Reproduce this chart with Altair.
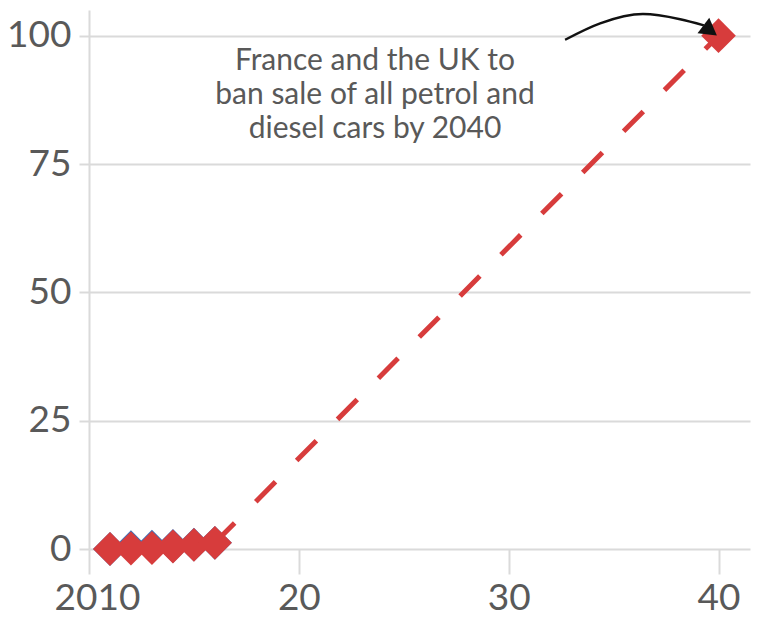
import altair as alt
import pandas as pd

# ---- data ----
years = [2011, 2012, 2013, 2014, 2015, 2016]
red_share = [0.0, 0.1, 0.2, 0.5, 0.8, 1.2]
blue_share = [0.0, 0.35, 0.45, 0.6, 0.85, 1.2]
path_year = [2016, 2040]
path_share = [1.2, 100]
ban_year = [2040]
ban_share = [100]
arrow_year = [2032.69, 2034.36, 2036.4, 2038.17, 2039.3]
arrow_share = [99.2, 102.4, 104.2, 103.2, 102.0]
head_year = [2039.6]
head_share = [101.0]
note_lines = ["France and the UK to", "ban sale of all petrol and", "diesel cars by 2040"]
note_year = [2023.63]
note_share = [95.0]
x_ticks = [2010, 2020, 2030, 2040]
y_ticks = [0, 25, 50, 75, 100]

RED = "#d73c3c"
BLUE = "#3d6fb6"
GRID = "#dadada"
TXT = "#595959"
FONT = "Lato"

hist = pd.DataFrame({"x": years, "y": red_share})
blue = pd.DataFrame({"x": years, "y": blue_share})
path = pd.DataFrame({"x": path_year, "y": path_share})
ban = pd.DataFrame({"x": ban_year, "y": ban_share})
arrow = pd.DataFrame({"x": arrow_year, "y": arrow_share, "o": list(range(len(arrow_year)))})
head = pd.DataFrame({"x": head_year, "y": head_share})
note = pd.DataFrame({"x": note_year, "y": note_share, "t": [note_lines]})

X = alt.X(
    "x:Q",
    scale=alt.Scale(domain=[2010, 2041.5], nice=False, zero=False),
    axis=alt.Axis(
        values=x_ticks, title=None, grid=False, domain=False,
        tickSize=25, tickWidth=2, tickColor=GRID,
        labelExpr="datum.value == 2010 ? '2010' : '' + (datum.value - 2000)",
        labelFont=FONT, labelFontSize=37, labelColor=TXT, labelPadding=6,
        labelFlush=False,
        labelOffset={"condition": {"test": "datum.value == 2010", "value": 8}, "value": 0},
    ),
)
Y = alt.Y(
    "y:Q",
    scale=alt.Scale(domain=[0, 105], nice=False),
    axis=alt.Axis(
        values=y_ticks, title=None, grid=True, gridColor=GRID, gridWidth=2,
        domain=True, domainColor=GRID, domainWidth=2,
        tickSize=10, tickWidth=2, tickColor=GRID,
        labelFont=FONT, labelFontSize=37, labelColor=TXT, labelPadding=8,
    ),
)

blue_pts = alt.Chart(blue).mark_point(
    shape="diamond", filled=True, size=1150, color=BLUE, opacity=1
).encode(x=X, y=Y)

dash = alt.Chart(path).mark_line(
    color=RED, strokeWidth=5, strokeDash=[28, 30], strokeCap="butt"
).encode(x=X, y=Y)

red_pts = alt.Chart(hist).mark_point(
    shape="diamond", filled=True, size=1150, color=RED, opacity=1
).encode(x=X, y=Y)

ban_pt = alt.Chart(ban).mark_point(
    shape="diamond", filled=True, size=1200, color=RED, opacity=1
).encode(x=X, y=Y)

arrow_line = alt.Chart(arrow).mark_line(
    color="#111111", strokeWidth=2.5, interpolate="monotone"
).encode(x=X, y=Y, order="o:Q")

arrow_head = alt.Chart(head).mark_point(
    shape="triangle-right", filled=True, size=380, color="#111111", opacity=1, angle=37
).encode(x=X, y=Y)

note_txt = alt.Chart(note).mark_text(
    font=FONT, fontSize=30, color=TXT, align="center", baseline="middle", lineHeight=34
).encode(x=X, y=Y, text="t")

chart = alt.layer(
    blue_pts, dash, red_pts, ban_pt, arrow_line, arrow_head, note_txt
).properties(
    width=661, height=539,
    autosize=alt.AutoSizeParams(type="none"),
    padding={"left": 89, "top": 10, "right": 9, "bottom": 68},
    background="white",
).configure_view(stroke=None)

chart.save("out.html", embed_options={"renderer": "svg", "actions": False})
